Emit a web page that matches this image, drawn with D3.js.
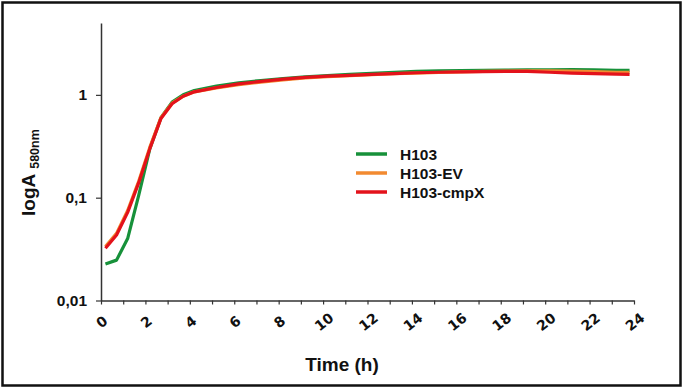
<!DOCTYPE html>
<html>
<head>
<meta charset="utf-8">
<script src="https://cdn.jsdelivr.net/npm/d3@7"></script>
<style>
  body { margin: 0; background: #fff; }
  svg { display: block; font-family: "Liberation Sans", Arial, sans-serif; }
</style>
</head>
<body>
<div id="chart"></div>
<script>
// hours
const times = [0.2, 0.7, 1.2, 1.7, 2.2, 2.7, 3.2, 3.7, 4.2, 5.2, 6.2, 7.2, 8.2, 9.2, 10.2,
  11.2, 12.2, 13.2, 14.2, 15.2, 16.2, 17.2, 18.2, 19.2, 20.2, 21.2, 22.2, 23.2, 23.8];

const h103 = [0.0226, 0.0247, 0.040, 0.106, 0.30, 0.60, 0.85, 1.0, 1.10, 1.22, 1.31, 1.38, 1.44, 1.50, 1.54,
  1.58, 1.62, 1.66, 1.69, 1.71, 1.72, 1.73, 1.74, 1.75, 1.75, 1.76, 1.75, 1.73, 1.73];
const h103EV = [0.0335, 0.045, 0.075, 0.145, 0.31, 0.60, 0.83, 0.97, 1.07, 1.17, 1.26, 1.33, 1.40, 1.46, 1.50,
  1.54, 1.57, 1.61, 1.63, 1.65, 1.67, 1.69, 1.70, 1.71, 1.71, 1.70, 1.68, 1.66, 1.66];
const h103cmpX = [0.0322, 0.0433, 0.072, 0.14, 0.30, 0.59, 0.82, 0.97, 1.07, 1.18, 1.28, 1.35, 1.42, 1.48, 1.52,
  1.55, 1.58, 1.61, 1.64, 1.66, 1.67, 1.68, 1.69, 1.69, 1.66, 1.63, 1.61, 1.59, 1.58];

const seriesNames = ["H103", "H103-EV", "H103-cmpX"];
const seriesColors = ["#17913a", "#f28a30", "#e3121b"];
const yTicks = [0.01, 0.1, 1];

const width = 685, height = 389;

const svg = d3.select("#chart").append("svg")
  .attr("width", width)
  .attr("height", height);

// frame
svg.append("rect")
  .attr("x", 2.5).attr("y", 2.5)
  .attr("width", 678).attr("height", 383)
  .attr("fill", "none")
  .attr("stroke", "#111")
  .attr("stroke-width", 2.5);

const xScale = d3.scaleLinear().domain([0, 24]).range([101, 634]);
const yScale = d3.scaleLog().domain([0.01, 5]).range([300.5, 23]);

// x axis
const xAxis = d3.axisBottom(xScale)
  .tickValues(d3.range(0, 25))
  .tickSize(4)
  .tickSizeOuter(0)
  .tickFormat(d => d % 2 ? "" : d);

const gx = svg.append("g")
  .attr("transform", `translate(0,${yScale(0.01)})`)
  .call(xAxis);
gx.select(".domain").attr("stroke", "#333").attr("stroke-width", 1.5);
gx.selectAll(".tick line").attr("stroke", "#333").attr("stroke-width", 1.2);
gx.selectAll(".tick text")
  .attr("y", 0).attr("dy", 0)
  .attr("transform", "translate(1,22) rotate(-38)")
  .attr("text-anchor", "middle")
  .attr("dominant-baseline", "middle")
  .style("font-size", "14px")
  .style("font-weight", "600")
  .style("font-family", "'DejaVu Sans', sans-serif")
  .attr("fill", "#111");

// y axis
const yAxis = d3.axisLeft(yScale)
  .tickValues(yTicks)
  .tickSize(5)
  .tickSizeOuter(0)
  .tickFormat(d => String(d).replace(".", ","));

const gy = svg.append("g")
  .attr("transform", `translate(${xScale(0)},0)`)
  .call(yAxis);
gy.select(".domain").attr("stroke", "#333").attr("stroke-width", 1.5);
gy.selectAll(".tick line").attr("stroke", "#333").attr("stroke-width", 1.2);
gy.selectAll(".tick text")
  .attr("x", -14)
  .style("font-size", "15.5px")
  .style("font-weight", "bold")
  .style("font-family", "'Liberation Sans', Arial, sans-serif")
  .attr("fill", "#111");

// lines
const line = d3.line()
  .x((d, i) => xScale(times[i]))
  .y(d => yScale(d));

[h103, h103EV, h103cmpX].forEach((vals, k) => {
  svg.append("path")
    .datum(vals)
    .attr("d", line)
    .attr("fill", "none")
    .attr("stroke", seriesColors[k])
    .attr("stroke-width", 3.2)
    .attr("stroke-linejoin", "round");
});

// legend
const legend = svg.append("g").attr("transform", "translate(356,154)");
seriesNames.forEach((name, i) => {
  legend.append("line")
    .attr("x1", 0).attr("x2", 31)
    .attr("y1", i * 19).attr("y2", i * 19)
    .attr("stroke", seriesColors[i])
    .attr("stroke-width", 3.5);
  legend.append("text")
    .attr("x", 44).attr("y", i * 19 + 5.5)
    .style("font-size", "15.5px")
    .style("font-weight", "bold")
    .attr("fill", "#111")
    .text(name);
});

// axis titles
svg.append("text")
  .attr("x", 342).attr("y", 371)
  .attr("text-anchor", "middle")
  .style("font-size", "19px")
  .style("font-weight", "bold")
  .attr("fill", "#111")
  .text("Time (h)");

const yTitle = svg.append("text")
  .attr("transform", "translate(35,216) rotate(-90)")
  .style("font-weight", "bold")
  .attr("fill", "#111");
yTitle.append("tspan").style("font-size", "19px").text("logA");
yTitle.append("tspan").attr("dx", 5).attr("dy", 4).style("font-size", "12.5px").text("580nm");
</script>
</body>
</html>
